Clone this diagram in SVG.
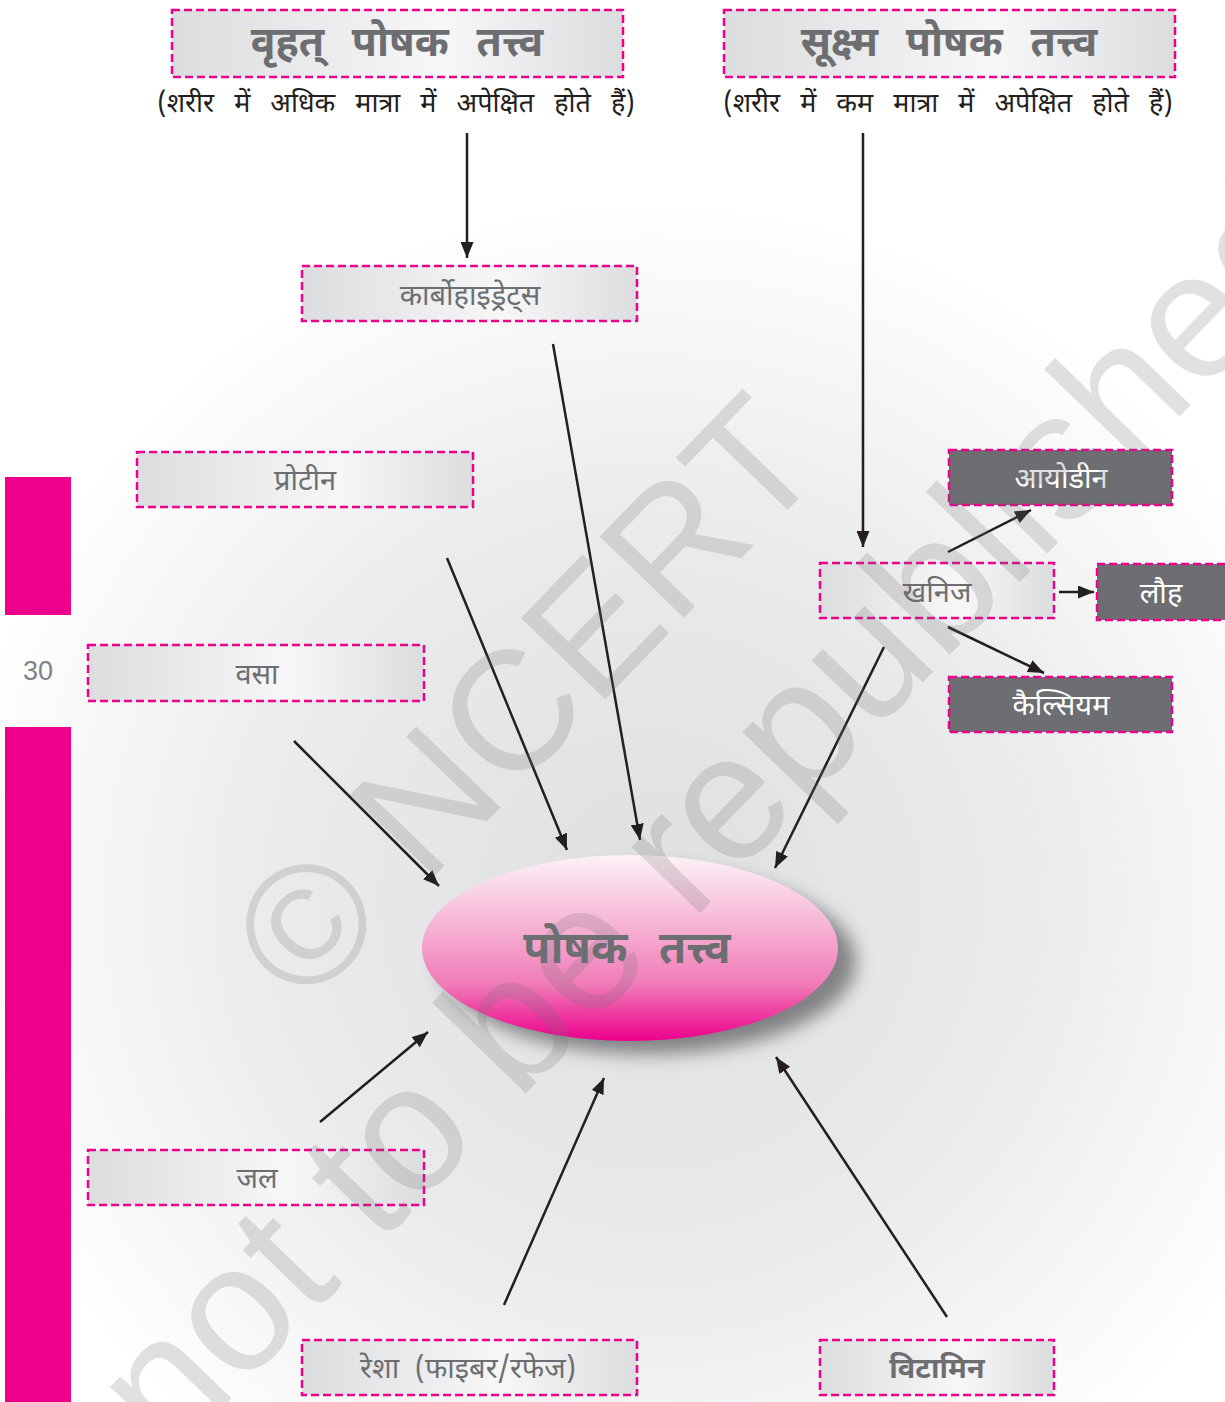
<svg xmlns="http://www.w3.org/2000/svg" width="1225" height="1402" viewBox="0 0 1225 1402">
<defs>
<style>
.box{stroke:#ec008c;stroke-width:2.5;stroke-dasharray:8 4;fill:url(#boxg)}
.dbox{stroke:#ec008c;stroke-width:2.5;stroke-dasharray:8 4;fill:#6d6e71}
.t{font-family:"Noto Sans Devanagari","Lohit Devanagari","Noto Sans",sans-serif;text-anchor:middle;fill:#6d6e71}
.lbl{font-size:29px}
.hd{font-size:41px;font-weight:bold;word-spacing:17px}
.sub{font-size:27px;fill:#231f20;word-spacing:13px}
.wl{font-size:29px;fill:#ffffff}
.con{stroke:#231f20;stroke-width:2.5;fill:none;marker-end:url(#ah)}
.wm{font-family:"Liberation Sans",Arial,sans-serif;fill:#6d6e71;opacity:0.2}
</style>
<radialGradient id="bg" cx="650" cy="900" r="700" gradientUnits="userSpaceOnUse">
<stop offset="0" stop-color="#dedfe1"/>
<stop offset="0.55" stop-color="#eaebec"/>
<stop offset="1" stop-color="#ffffff"/>
</radialGradient>
<linearGradient id="boxg" x1="0" y1="0" x2="1" y2="0">
<stop offset="0" stop-color="#dcdddf"/>
<stop offset="0.6" stop-color="#f7f7f8"/>
<stop offset="1" stop-color="#dcdddf"/>
</linearGradient>
<linearGradient id="elg" x1="0" y1="0" x2="0" y2="1">
<stop offset="0" stop-color="#fdf2f7"/>
<stop offset="0.35" stop-color="#f6b9d7"/>
<stop offset="0.7" stop-color="#f07ab7"/>
<stop offset="1" stop-color="#ec008c"/>
</linearGradient>
<filter id="sh" x="-20%" y="-30%" width="140%" height="160%">
<feGaussianBlur stdDeviation="9"/>
</filter>
<marker id="ah" markerUnits="userSpaceOnUse" markerWidth="17" markerHeight="13" refX="16" refY="6.5" orient="auto">
<path d="M0,0 L16,6.5 L0,13 z" fill="#231f20"/>
</marker>
</defs>

<rect width="1225" height="1402" fill="url(#bg)"/>

<g id="page-marks">
<rect x="5" y="477" width="66" height="138" fill="#ec008c"/>
<rect x="5" y="727" width="66" height="675" fill="#ec008c"/>
<text x="38" y="680" font-family="Liberation Sans,Arial,sans-serif" font-size="27" fill="#808285" text-anchor="middle">30</text>
</g>

<g id="macro-header">
<rect class="box" x="172" y="10" width="451" height="67"/>
<text class="t hd" x="397" y="56">वृहत् पोषक तत्त्व</text>
<text class="t sub" x="396" y="112">(शरीर में अधिक मात्रा में अपेक्षित होते हैं)</text>
</g>
<g id="micro-header">
<rect class="box" x="724" y="10" width="451" height="67"/>
<text class="t hd" x="949" y="56">सूक्ष्म पोषक तत्त्व</text>
<text class="t sub" x="948" y="112">(शरीर में कम मात्रा में अपेक्षित होते हैं)</text>
</g>

<g id="carbohydrates">
<rect class="box" x="302" y="266" width="335" height="55"/>
<text class="t lbl" x="470" y="305">कार्बोहाइड्रेट्स</text>
</g>
<g id="protein">
<rect class="box" x="137" y="452" width="336" height="55"/>
<text class="t lbl" x="305" y="490">प्रोटीन</text>
</g>
<g id="fat">
<rect class="box" x="88" y="645" width="336" height="56"/>
<text class="t lbl" x="257" y="684">वसा</text>
</g>
<g id="water">
<rect class="box" x="88" y="1150" width="336" height="55"/>
<text class="t lbl" x="257" y="1188">जल</text>
</g>
<g id="fibre">
<rect class="box" x="302" y="1340" width="335" height="55"/>
<text class="t lbl" x="468" y="1378" word-spacing="8">रेशा (फाइबर/रफेज)</text>
</g>
<g id="vitamin">
<rect class="box" x="820" y="1340" width="234" height="55"/>
<text class="t lbl" x="937" y="1378" font-weight="bold">विटामिन</text>
</g>
<g id="minerals">
<rect class="box" x="820" y="563" width="234" height="55"/>
<text class="t lbl" x="937" y="602">खनिज</text>
</g>
<g id="iodine">
<rect class="dbox" x="949" y="450" width="223" height="55"/>
<text class="t wl" x="1061" y="488">आयोडीन</text>
</g>
<g id="iron">
<rect class="dbox" x="1097" y="564" width="130" height="56"/>
<text class="t wl" x="1161" y="603">लौह</text>
</g>
<g id="calcium">
<rect class="dbox" x="949" y="677" width="223" height="55"/>
<text class="t wl" x="1061" y="715">कैल्सियम</text>
</g>

<g id="nutrients">
<ellipse cx="648" cy="962" rx="208" ry="92" fill="#58595b" opacity="0.7" filter="url(#sh)"/>
<ellipse cx="630" cy="948" rx="208" ry="93" fill="url(#elg)"/>
<text class="t" x="627" y="963" font-size="44" font-weight="bold" word-spacing="20">पोषक तत्त्व</text>
</g>

<g id="connectors">
<line class="con" x1="467" y1="133" x2="467" y2="258"/>
<line class="con" x1="863" y1="133" x2="863" y2="547"/>
<line class="con" x1="553" y1="344" x2="640" y2="840"/>
<line class="con" x1="447" y1="558" x2="567" y2="850"/>
<line class="con" x1="294" y1="741" x2="439" y2="886"/>
<line class="con" x1="884" y1="647" x2="775" y2="868"/>
<line class="con" x1="320" y1="1122" x2="428" y2="1032"/>
<line class="con" x1="504" y1="1305" x2="604" y2="1078"/>
<line class="con" x1="947" y1="1317" x2="776" y2="1057"/>
<line class="con" x1="948" y1="552" x2="1031" y2="510"/>
<line class="con" x1="1059" y1="592" x2="1094" y2="592"/>
<line class="con" x1="948" y1="627" x2="1044" y2="673"/>
</g>

<g id="watermark">
<text class="wm" font-size="170" transform="translate(305,1010) rotate(-46)">© NCERT</text>
<text class="wm" font-size="180" transform="translate(170,1462) rotate(-46)">not to be republished</text>
</g>
</svg>
